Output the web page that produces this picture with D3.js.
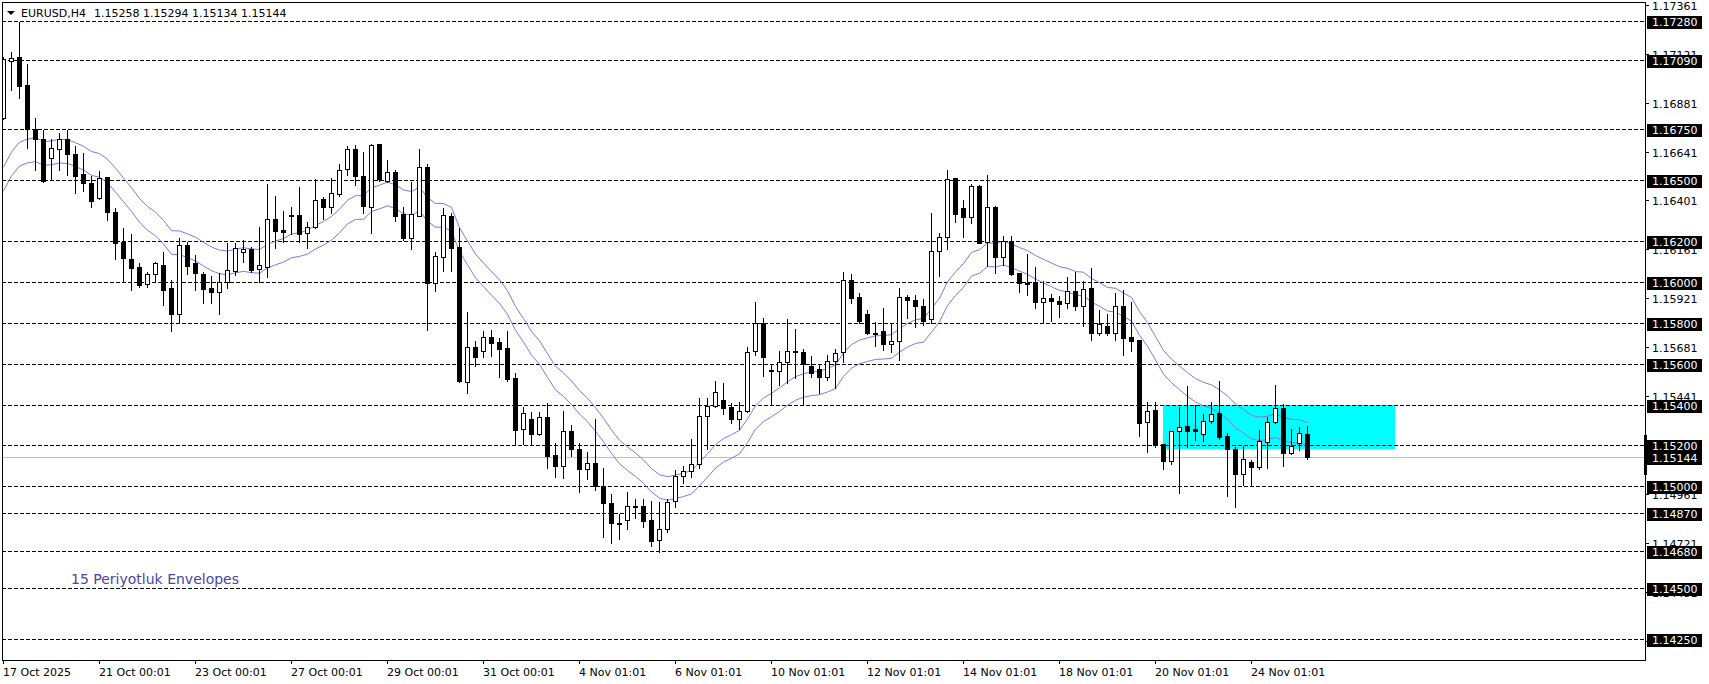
<!DOCTYPE html>
<html><head><meta charset="utf-8">
<script src="https://cdn.jsdelivr.net/npm/d3@7"></script>
<style>html,body{margin:0;padding:0;background:#fff;overflow:hidden}svg{display:block}</style>
</head><body>
<svg id="chart" width="1709" height="684"></svg>
<script>
// ---------------- data ----------------
const symbolLabel = "EURUSD,H4";
const headerValues = "1.15258 1.15294 1.15134 1.15144";

const openP = [1.16804,1.17085,1.17103,1.16967,1.16750,1.16702,1.16608,1.16652,1.16701,1.16627,
1.16531,1.16485,1.16414,1.16514,1.16346,1.16198,1.16112,1.16073,1.15993,1.16039,
1.16084,1.15970,1.15842,1.16182,1.16093,1.16040,1.15970,1.15950,1.15999,1.16056,
1.16149,1.16163,1.16063,1.16076,1.16308,1.16254,1.16326,1.16329,1.16240,1.16269,
1.16408,1.16370,1.16432,1.16554,1.16653,1.16521,1.16370,1.16678,1.16496,1.16539,
1.16333,1.16218,1.16326,1.16563,1.15997,1.16125,1.16326,1.16171,1.15512,1.15681,
1.15664,1.15730,1.15705,1.15676,1.15528,1.15278,1.15327,1.15254,1.15337,1.15152,
1.15100,1.15271,1.15180,1.15082,1.15112,1.15002,1.14915,1.14817,1.14833,1.14899,
1.14904,1.14833,1.14735,1.14788,1.14927,1.15051,1.15074,1.15107,1.15344,1.15393,
1.15422,1.15389,1.15327,1.15368,1.15662,1.15798,1.15569,1.15564,1.15607,1.15662,
1.15656,1.15589,1.15573,1.15536,1.15613,1.15656,1.16011,1.15926,1.15844,1.15751,
1.15762,1.15695,1.15711,1.15929,1.15913,1.15883,1.15818,1.16153,1.16220,1.16509,
1.16362,1.16321,1.16472,1.16198,1.16367,1.16125,1.16203,1.16043,1.15997,1.15999,
1.15904,1.15921,1.15908,1.15896,1.15958,1.15885,1.15970,1.15749,1.15785,1.15752,
1.15883,1.15730,1.15716,1.15313,1.15373,1.15206,1.15124,1.15271,1.15295,1.15278,
1.15254,1.15320,1.15357,1.15245,1.15180,1.15058,1.15116,1.15092,1.15218,1.15316,
1.15381,1.15161,1.15213,1.15258];

const highP = [1.17106,1.17128,1.17275,1.17069,1.16804,1.16746,1.16702,1.16730,1.16746,1.16669,
1.16632,1.16521,1.16547,1.16516,1.16362,1.16264,1.16236,1.16093,1.16051,1.16100,
1.16149,1.16011,1.16215,1.16198,1.16133,1.16051,1.16030,1.16046,1.16191,1.16191,
1.16207,1.16174,1.16269,1.16480,1.16423,1.16349,1.16370,1.16465,1.16297,1.16506,
1.16419,1.16509,1.16580,1.16668,1.16673,1.16637,1.16678,1.16680,1.16599,1.16550,
1.16370,1.16493,1.16652,1.16580,1.16149,1.16362,1.16338,1.16267,1.15852,1.15711,
1.15760,1.15765,1.15725,1.15760,1.15553,1.15389,1.15365,1.15365,1.15406,1.15210,
1.15368,1.15299,1.15210,1.15166,1.15329,1.15087,1.14960,1.14861,1.14969,1.14935,
1.14936,1.14927,1.14920,1.14935,1.15079,1.15098,1.15231,1.15430,1.15433,1.15515,
1.15504,1.15406,1.15411,1.15683,1.15901,1.15823,1.15594,1.15662,1.15818,1.15769,
1.15672,1.15638,1.15597,1.15643,1.15672,1.16048,1.16040,1.15945,1.15863,1.15803,
1.15872,1.15798,1.15970,1.15937,1.15937,1.15916,1.16341,1.16243,1.16550,1.16511,
1.16403,1.16482,1.16477,1.16526,1.16374,1.16226,1.16226,1.16045,1.16137,1.16073,
1.16007,1.15942,1.15932,1.16027,1.16051,1.16007,1.16068,1.15863,1.15844,1.15945,
1.15962,1.15904,1.15718,1.15411,1.15411,1.15208,1.15271,1.15389,1.15491,1.15398,
1.15353,1.15411,1.15515,1.15262,1.15193,1.15196,1.15128,1.15275,1.15340,1.15496,
1.15402,1.15280,1.15291,1.15294];

const lowP = [1.16800,1.16943,1.16902,1.16660,1.16550,1.16493,1.16501,1.16550,1.16526,1.16436,
1.16449,1.16370,1.16406,1.16307,1.16116,1.16002,1.15964,1.15978,1.15978,1.16001,
1.15886,1.15759,1.15806,1.16039,1.15962,1.15896,1.15896,1.15842,1.15970,1.16035,
1.16100,1.16051,1.15999,1.16027,1.16169,1.16198,1.16236,1.16196,1.16166,1.16264,
1.16308,1.16341,1.16423,1.16526,1.16477,1.16341,1.16243,1.16498,1.16494,1.16300,
1.16207,1.16163,1.16324,1.15765,1.15958,1.16056,1.16056,1.15512,1.15455,1.15590,
1.15634,1.15639,1.15536,1.15517,1.15206,1.15206,1.15201,1.15250,1.15087,1.15043,
1.15038,1.15149,1.14969,1.15035,1.14981,1.14752,1.14719,1.14739,1.14788,1.14842,
1.14801,1.14707,1.14675,1.14776,1.14896,1.15013,1.15043,1.15090,1.15180,1.15389,
1.15352,1.15311,1.15280,1.15365,1.15643,1.15540,1.15398,1.15496,1.15504,1.15528,
1.15398,1.15536,1.15458,1.15520,1.15479,1.15610,1.15896,1.15798,1.15746,1.15687,
1.15667,1.15659,1.15618,1.15823,1.15779,1.15790,1.15801,1.16030,1.16161,1.16297,
1.16223,1.16289,1.16192,1.16079,1.16046,1.16084,1.16035,1.15953,1.15937,1.15872,
1.15806,1.15811,1.15831,1.15872,1.15863,1.15786,1.15716,1.15741,1.15741,1.15716,
1.15643,1.15664,1.15247,1.15168,1.15193,1.15084,1.15107,1.14967,1.15190,1.15226,
1.15221,1.15311,1.15231,1.14953,1.14899,1.15005,1.15005,1.15084,1.15087,1.15308,
1.15098,1.15157,1.15177,1.15134];

const closeP = [1.17095,1.17101,1.16964,1.16750,1.16702,1.16498,1.16657,1.16701,1.16627,1.16522,
1.16485,1.16400,1.16509,1.16346,1.16194,1.16117,1.16071,1.15986,1.16039,1.16092,
1.15962,1.15842,1.16182,1.16081,1.16044,1.15967,1.15950,1.15999,1.16058,1.16169,
1.16163,1.16060,1.16084,1.16308,1.16252,1.16248,1.16329,1.16235,1.16269,1.16402,
1.16370,1.16436,1.16549,1.16652,1.16521,1.16375,1.16673,1.16506,1.16539,1.16326,
1.16218,1.16333,1.16563,1.15994,1.16128,1.16329,1.16169,1.15517,1.15683,1.15634,
1.15730,1.15703,1.15672,1.15525,1.15275,1.15357,1.15254,1.15337,1.15146,1.15100,
1.15271,1.15180,1.15082,1.15112,1.15000,1.14915,1.14817,1.14812,1.14904,1.14902,
1.14830,1.14732,1.14788,1.14920,1.15052,1.15075,1.15107,1.15344,1.15393,1.15460,
1.15381,1.15327,1.15368,1.15659,1.15798,1.15634,1.15564,1.15607,1.15662,1.15656,
1.15597,1.15556,1.15536,1.15613,1.15654,1.16011,1.15924,1.15809,1.15749,1.15747,
1.15695,1.15711,1.15926,1.15913,1.15883,1.15811,1.16153,1.16220,1.16505,1.16333,
1.16321,1.16472,1.16194,1.16367,1.16125,1.16203,1.16040,1.15994,1.15991,1.15904,
1.15921,1.15909,1.15893,1.15957,1.15885,1.15965,1.15749,1.15795,1.15752,1.15883,
1.15728,1.15713,1.15311,1.15370,1.15201,1.15124,1.15271,1.15291,1.15271,1.15271,
1.15320,1.15352,1.15242,1.15180,1.15058,1.15131,1.15092,1.15221,1.15316,1.15381,
1.15161,1.15198,1.15259,1.15144];

// horizontal levels drawn on the chart (labelled on the price scale)
const levelPrices = [1.17280,1.17090,1.16750,1.16500,1.16200,1.16000,1.15800,1.15600,
1.15400,1.15200,1.15000,1.14870,1.14680,1.14500,1.14250];
// price-scale tick labels
const scaleTicks = [1.17361,1.17121,1.16881,1.16641,1.16401,1.16161,1.15921,1.15681,
1.15441,1.15201,1.14961,1.14721,1.14481,1.14241];
// time axis
const timeTickBars = [0,12,24,36,48,60,72,84,96,108,120,132,144,156];
const timeTickLabels = ["17 Oct 2025","21 Oct 00:01","23 Oct 00:01","27 Oct 00:01","29 Oct 00:01",
"31 Oct 00:01","4 Nov 01:01","6 Nov 01:01","10 Nov 01:01","12 Nov 01:01","14 Nov 01:01",
"18 Nov 01:01","20 Nov 01:01","24 Nov 01:01"];

// envelope indicator settings
const envelopePeriod = 15;
const envelopeDeviation = 0.05;      // percent
const envelopeStart = 1.16506;       // MA value at first visible bar
const envelopeLabel = "15 Periyotluk Envelopes";

const currentPrice = 1.15144;
const zoneBars = [145, 174];
const zonePrices = [1.15400, 1.15180];
const scaleMarker = [1.15250, 1.15054];

// ---------------- drawing ----------------
const svg = d3.select("#chart");
const W = 1709, H = 684;
const plotL = 2, plotR = 1645, plotT = 2, plotB = 660;
const font = "'DejaVu Sans', Verdana, sans-serif";

const x = d3.scaleLinear().domain([0, 163]).range([3.5, 3.5 + 8 * 163]);
const y = d3.scaleLinear().domain([1.14250, 1.17280]).range([639, 21.3]);
const py = v => Math.round(y(v));

svg.append("rect").attr("width", W).attr("height", H).attr("fill", "#fff");

svg.append("defs").append("clipPath").attr("id", "plotClip")
  .append("rect").attr("x", plotL + 1).attr("y", plotT + 1)
  .attr("width", plotR - plotL - 1).attr("height", plotB - plotT - 1);

const plot = svg.append("g").attr("clip-path", "url(#plotClip)");

// zone rectangle
plot.append("rect")
  .attr("x", x(zoneBars[0]) - 0.5).attr("y", py(zonePrices[0]))
  .attr("width", x(zoneBars[1]) - x(zoneBars[0]))
  .attr("height", py(zonePrices[1]) - py(zonePrices[0]))
  .attr("fill", "#00ffff");

// level lines
plot.selectAll("line.level").data(levelPrices).join("line")
  .attr("class", "level")
  .attr("x1", plotL).attr("x2", plotR)
  .attr("y1", d => py(d) + 0.5).attr("y2", d => py(d) + 0.5)
  .attr("stroke", "#000").attr("stroke-width", 1)
  .attr("stroke-dasharray", "4,2").attr("shape-rendering", "crispEdges");

// current price line
plot.append("line")
  .attr("x1", plotL).attr("x2", plotR)
  .attr("y1", py(currentPrice) + 0.5).attr("y2", py(currentPrice) + 0.5)
  .attr("stroke", "#c0c0c0").attr("stroke-width", 1).attr("shape-rendering", "crispEdges");

// envelope (EMA based)
const alpha = 2 / (envelopePeriod + 1);
const ma = [];
closeP.forEach((c, i) => { ma.push(i === 0 ? envelopeStart : ma[i - 1] + alpha * (c - ma[i - 1])); });
const env = ma.map((m, i) => ({ i, up: m * (1 + envelopeDeviation / 100), dn: m * (1 - envelopeDeviation / 100) }));
const lineUp = d3.line().x(d => x(d.i)).y(d => y(d.up));
const lineDn = d3.line().x(d => x(d.i)).y(d => y(d.dn));
plot.append("path").attr("d", lineUp(env)).attr("fill", "none").attr("stroke", "#9370db").attr("stroke-width", 1);
plot.append("path").attr("d", lineDn(env)).attr("fill", "none").attr("stroke", "#9370db").attr("stroke-width", 1);

// candles
const bars = openP.map((o, i) => ({ i, o, h: highP[i], l: lowP[i], c: closeP[i] }));
const cg = plot.append("g").attr("shape-rendering", "crispEdges");
cg.selectAll("line.wick").data(bars).join("line")
  .attr("class", "wick")
  .attr("x1", d => x(d.i)).attr("x2", d => x(d.i))
  .attr("y1", d => py(d.h)).attr("y2", d => py(d.l) + 1)
  .attr("stroke", "#000").attr("stroke-width", 1);
cg.selectAll("rect.body").data(bars).join("rect")
  .attr("class", "body")
  .each(function (d) {
    const top = py(Math.max(d.o, d.c)), bot = py(Math.min(d.o, d.c));
    const sel = d3.select(this);
    if (d.c >= d.o) {
      const hgt = Math.max(0, bot - top);
      sel.attr("x", x(d.i) - 2).attr("y", top + 0.5).attr("width", 4).attr("height", hgt)
        .attr("fill", "#fff").attr("stroke", "#000").attr("stroke-width", 1);
    } else {
      sel.attr("x", x(d.i) - 2.5).attr("y", top).attr("width", 5).attr("height", Math.max(1, bot - top + 1))
        .attr("fill", "#000");
    }
  });

// frame
svg.append("rect").attr("x", plotL + 0.5).attr("y", plotT + 0.5)
  .attr("width", plotR - plotL).attr("height", plotB - plotT)
  .attr("fill", "none").attr("stroke", "#000").attr("stroke-width", 1).attr("shape-rendering", "crispEdges");

// price scale ticks & labels
const scale = svg.append("g");
scale.selectAll("line.st").data(scaleTicks).join("line")
  .attr("x1", plotR).attr("x2", plotR + 4)
  .attr("y1", d => py(d) + 0.5).attr("y2", d => py(d) + 0.5)
  .attr("stroke", "#000").attr("shape-rendering", "crispEdges");
scale.selectAll("text.st").data(scaleTicks).join("text")
  .attr("x", 1652).attr("y", d => y(d) + 5)
  .attr("font-family", font).attr("font-size", 11).attr("fill", "#000")
  .text(d => d.toFixed(5));

// level labels
const lvl = svg.append("g");
const allLabels = levelPrices.concat([currentPrice]);
lvl.selectAll("rect").data(allLabels).join("rect")
  .attr("x", 1647).attr("y", d => py(d) - 5).attr("width", 55).attr("height", 13)
  .attr("fill", "#000");
lvl.selectAll("text").data(allLabels).join("text")
  .attr("x", 1652).attr("y", d => py(d) + 5)
  .attr("font-family", font).attr("font-size", 11).attr("fill", "#fff")
  .text(d => d.toFixed(5));

// scale marker
svg.append("rect").attr("x", 1644).attr("y", py(scaleMarker[0]))
  .attr("width", 3).attr("height", py(scaleMarker[1]) - py(scaleMarker[0])).attr("fill", "#000");

// time axis
const tx = svg.append("g");
tx.selectAll("line").data(timeTickBars).join("line")
  .attr("x1", d => x(d)).attr("x2", d => x(d)).attr("y1", plotB).attr("y2", plotB + 4)
  .attr("stroke", "#000").attr("shape-rendering", "crispEdges");
tx.selectAll("text").data(timeTickBars).join("text")
  .attr("x", d => x(d) - 0.5).attr("y", 676)
  .attr("font-family", font).attr("font-size", 11).attr("fill", "#000")
  .text((d, k) => timeTickLabels[k]);

// header
svg.append("path").attr("d", "M7,11 L15,11 L11,15 Z").attr("fill", "#000");
svg.append("text").attr("x", 21).attr("y", 16.5).attr("font-family", font).attr("font-size", 11)
  .attr("fill", "#000").text(symbolLabel);
svg.append("text").attr("x", 94).attr("y", 16.5).attr("font-family", font).attr("font-size", 11)
  .attr("fill", "#000").text(headerValues);

// envelope label
svg.append("text").attr("x", 71).attr("y", 583.5).attr("font-family", font).attr("font-size", 14)
  .attr("fill", "#4b44a0").text(envelopeLabel);
</script>
</body></html>
